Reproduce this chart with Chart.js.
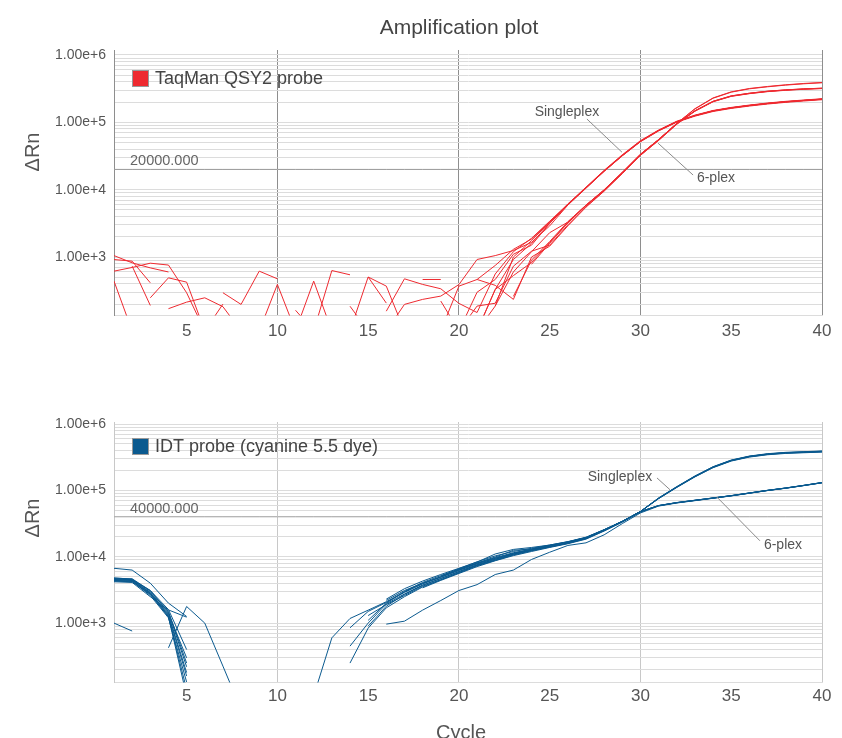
<!DOCTYPE html>
<html>
<head>
<meta charset="utf-8">
<title>Amplification plot</title>
<script src="https://cdn.jsdelivr.net/npm/chart.js@4.4.1/dist/chart.umd.min.js"></script>
<style>
  html, body { margin: 0; padding: 0; background: #fff; overflow: hidden; }
  #wrap { position: relative; width: 842px; height: 738px; }
  .box { position: absolute; left: 0; width: 842px; }
  #topBox { top: 0; height: 350px; }
  #bottomBox { top: 380px; height: 358px; }
</style>
</head>
<body>
<div id="wrap">
  <div class="box" id="topBox"><canvas id="qsyChart"></canvas></div>
  <div class="box" id="bottomBox"><canvas id="idtChart"></canvas></div>
</div>
<script>
const _ = null;

// x categories (cycle number) and axis ticks
const cycles = [1, 2, 3, 4, 5, 6, 7, 8, 9, 10, 11, 12, 13, 14, 15, 16, 17, 18, 19, 20,
  21, 22, 23, 24, 25, 26, 27, 28, 29, 30, 31, 32, 33, 34, 35, 36, 37, 38, 39, 40];
const xTicks = [5, 10, 15, 20, 25, 30, 35, 40];
const yLabelTicks = [1e3, 1e4, 1e5, 1e6];

const qsyThreshold = 20000;
const idtThreshold = 40000;

// TaqMan QSY2 probe, singleplex replicates (delta Rn per cycle)
const qsySingle1 = [1050, 820, 690, 600, _, _, _, _, _, _,
  _, _, _, _, _, 80, 198, 235, 263, 390,
  920, 1050, 1250, 1650, 2900, 5900, 10500, 18800, 32000, 52000,
  75500, 102000, 125500, 147500, 163500, 177500, 190000, 201500, 211000, 220500];
const qsySingle2 = [617, 700, 810, 760, 295, 80, _, _, _, _,
  _, _, _, _, _, _, _, 464, 464, _,
  80, 330, 918, 1600, 3200, 6150, 10900, 19400, 33000, 53500,
  77000, 104000, 128000, 150000, 166500, 180500, 193500, 205000, 214500, 224000];
const qsySingle3 = [918, 868, 414, _, _, _, _, _, 80, 392,
  80, _, _, _, _, 157, 475, 392, 338, 205,
  150, 560, 1200, 1900, 3400, 6100, 10600, 18700, 31800, 51500,
  74500, 100500, 123500, 145000, 161000, 174500, 187000, 198000, 207500, 216500];
const qsySingle4 = [_, 732, 191, _, _, _, _, _, _, _,
  _, 80, 630, 545, _, _, _, _, 222, 80,
  _, 187, 1000, 1750, 3300, 6000, 10700, 19000, 32300, 52400,
  75800, 102300, 126000, 148000, 164000, 178000, 190500, 202000, 211500, 221000];
const qsySingle5 = [439, 80, _, _, _, _, 295, 198, 617, 475,
  _, _, _, 80, 505, 207, _, _, _, 80,
  300, 464, 1100, 1500, 3150, 5950, 10650, 18900, 32200, 52200,
  75600, 102000, 125500, 147500, 163700, 177400, 190200, 201500, 211000, 220300];
const qsySingle6 = [_, _, 248, 491, 424, 80, _, _, _, _,
  80, 439, 80, _, _, _, _, _, 80, 370,
  464, 750, 1300, 1850, 3350, 6050, 10750, 19100, 32400, 52500,
  75900, 102400, 126200, 148500, 164800, 178600, 191400, 202700, 212300, 221800];

// TaqMan QSY2 probe, 6-plex replicates
const qsyMulti1 = [_, _, _, 171, 214, 248, 183, 80, _, _,
  _, _, _, 186, 80, _, _, _, _, _,
  _, _, _, 780, 1600, 3200, 5800, 9850, 17900, 33300,
  55300, 96000, 159500, 230500, 283500, 318000, 341000, 361000, 378000, 391000];
const qsyMulti2 = [_, _, _, _, _, 80, 200, _, _, _,
  _, _, _, _, 505, 370, 80, _, _, _,
  80, 330, 530, 830, 1650, 3250, 5850, 9900, 18000, 33500,
  55500, 96500, 158000, 228000, 280500, 314500, 337000, 357000, 373500, 386500];
const qsyMulti3 = [_, _, _, _, _, _, _, _, _, _,
  _, _, _, _, _, _, _, _, _, 80,
  187, 206, 731, 1220, 1500, 3000, 5600, 9600, 17500, 32500,
  54000, 94000, 146000, 202000, 243000, 266500, 285500, 299000, 309500, 317000];
const qsyMulti4 = [_, _, _, _, _, _, _, _, _, _,
  _, _, _, _, _, _, _, _, _, _,
  464, 380, 235, 1000, 1450, 2900, 5500, 9500, 17300, 32300,
  53800, 93500, 148500, 205000, 246500, 270500, 290000, 303500, 314000, 321500];
const qsyMulti5 = [_, _, _, _, _, _, _, _, _, _,
  _, _, _, _, _, _, _, _, _, _,
  80, 187, 600, 1200, 2300, 3300, 5900, 9900, 18000, 33400,
  55200, 95800, 147000, 203500, 244500, 268000, 287500, 301000, 311500, 319000];
const qsyMulti6 = [_, _, _, _, _, _, _, _, _, _,
  162, 80, _, _, _, _, _, _, _, _,
  _, _, 260, 900, 1700, 3350, 5900, 10000, 18100, 33700,
  55600, 96500, 148500, 205500, 247000, 270500, 289500, 303000, 313500, 321000];

// IDT probe (cyanine 5.5 dye), singleplex replicates
const idtSingle1 = [4800, 4600, 3000, 1500, 250, _, _, _, _, _,
  _, 80, 600, 1175, 1567, 2100, 2950, 3950, 4950, 6300,
  7900, 9500, 11300, 12900, 14600, 16500, 19300, 25300, 34000, 48000,
  76500, 113000, 163500, 225500, 284000, 326000, 353500, 370500, 379500, 388500];
const idtSingle2 = [4500, 4400, 2800, 1350, 180, _, _, _, _, _,
  _, _, _, 250, 840, 1700, 2500, 3500, 4500, 5800,
  7400, 8900, 10800, 12400, 14100, 16000, 18900, 25000, 33800, 47800,
  75500, 111500, 161000, 222000, 279500, 321000, 348000, 364500, 373000, 381500];
const idtSingle3 = [4300, 4200, 2700, 1250, 80, _, _, _, _, _,
  _, _, _, 450, 1000, 1950, 2750, 3750, 4700, 5950,
  7500, 9100, 10900, 12500, 14250, 16200, 19000, 25100, 33900, 47900,
  75800, 112200, 162000, 223500, 281000, 323000, 350000, 366500, 375000, 384000];
const idtSingle4 = [4600, 4500, 2900, 1400, 300, _, _, _, _, _,
  _, _, _, 850, 1500, 2050, 2900, 3900, 4900, 6200,
  7800, 9400, 11200, 12800, 14500, 16400, 19200, 25200, 34000, 48000,
  76000, 112500, 162500, 224500, 282500, 325000, 352000, 369000, 378000, 387000];
const idtSingle5 = [4400, 4300, 2600, 1200, 130, _, _, _, _, _,
  _, _, _, _, 1100, 2000, 3000, 4100, 5200, 6500,
  8000, 9700, 11500, 13000, 14700, 16600, 19400, 25400, 34100, 48100,
  75000, 110500, 159500, 219500, 276500, 317500, 344000, 360500, 369000, 377500];
const idtSingle6 = [4700, 4500, 3100, 1600, 400, _, _, _, _, _,
  _, _, _, _, _, 2300, 3300, 4300, 5400, 6700,
  8300, 11000, 12900, 13800, 15000, 16900, 19700, 25600, 34300, 48200,
  77000, 114000, 165000, 227500, 286500, 329000, 357000, 374000, 383000, 392000];

// IDT probe (cyanine 5.5 dye), 6-plex replicates
const idtMulti1 = [6700, 6300, 4000, 2000, 1260, _, _, _, _, _,
  _, _, _, _, _, 965, 1070, 1570, 2190, 3100,
  3800, 5400, 6300, 9100, 11700, 14800, 16200, 21400, 31600, 45700,
  58000, 64500, 70000, 76000, 82500, 90500, 99300, 107600, 118000, 130000];
const idtMulti2 = [1000, 760, _, 425, 1780, 1000, 225, 50, _, _,
  _, _, _, _, 1300, 1900, 2600, 3600, 4500, 5700,
  7300, 8800, 10600, 12300, 14000, 15900, 18700, 24600, 33500, 47500,
  59000, 65300, 70800, 76700, 83200, 91200, 100000, 108400, 118900, 131000];
const idtMulti3 = [4200, 4100, 2500, 1580, 1230, _, _, _, _, _,
  _, _, _, _, 900, 1800, 2700, 3700, 4700, 6000,
  7600, 9200, 11000, 12600, 14300, 16200, 19000, 25000, 33800, 47800,
  58800, 65200, 70700, 76600, 83000, 91000, 99800, 108200, 118600, 130500];
const idtMulti4 = [4750, 4650, 3100, 1450, 220, _, _, _, _, _,
  _, _, _, _, _, 2200, 3100, 4000, 5000, 6400,
  8100, 9900, 12500, 13100, 14800, 16700, 19500, 25500, 34000, 48000,
  59200, 65600, 71100, 77000, 83500, 91500, 100300, 108700, 119200, 131300];
const idtMulti5 = [4550, 4400, 2850, 1300, 160, _, _, _, _, _,
  _, _, _, _, _, _, _, 3400, 4400, 5600,
  7100, 8700, 10400, 12000, 13800, 15700, 18400, 24400, 33300, 47300,
  58600, 65000, 70400, 76300, 82800, 90700, 99500, 107800, 118200, 130200];
const idtMulti6 = [4350, 4250, 2750, 1250, 100, _, _, _, _, _,
  _, _, _, _, _, _, _, _, 5100, 6600,
  8400, 10300, 12000, 13400, 15000, 16800, 19400, 25400, 34000, 47900,
  58900, 65400, 70900, 76800, 83300, 91300, 100100, 108500, 119000, 131100];

const qsySeries = [qsySingle1, qsySingle2, qsySingle3, qsySingle4, qsySingle5, qsySingle6,
  qsyMulti1, qsyMulti2, qsyMulti3, qsyMulti4, qsyMulti5, qsyMulti6];
const idtSeries = [idtSingle1, idtSingle2, idtSingle3, idtSingle4, idtSingle5, idtSingle6,
  idtMulti1, idtMulti2, idtMulti3, idtMulti4, idtMulti5, idtMulti6];

const FONT = "'Liberation Sans', 'Helvetica Neue', Arial, sans-serif";
Chart.defaults.font.family = FONT;
Chart.defaults.color = '#555';

const RED = '#ee2a30';
const BLUE = '#0b5a8f';

// minor log grid: 1..9 x 10^n inside the axis range
function logGridValues(min, max) {
  const out = [];
  for (let e = 1; e <= 7; e++) {
    for (let m = 1; m <= 9; m++) {
      const v = m * Math.pow(10, e);
      if (v >= min && v <= max) out.push(v);
    }
  }
  return out;
}

// extra text: titles, legend key, threshold label and the Singleplex / 6-plex call-outs
function notesPlugin(spec) {
  return {
    id: 'notes',
    afterDraw(chart) {
      const ctx = chart.ctx;
      const area = chart.chartArea;
      const xs = chart.scales.x;
      const ys = chart.scales.y;
      ctx.save();
      ctx.textBaseline = 'middle';

      spec.texts.forEach(t => {
        ctx.save();
        ctx.font = t.size + 'px ' + FONT;
        ctx.fillStyle = t.color;
        ctx.textAlign = 'center';
        ctx.translate(t.x, t.y);
        if (t.rotate) ctx.rotate(-Math.PI / 2);
        ctx.fillText(t.text, 0, 0);
        ctx.restore();
      });

      // legend key inside the plot area
      const kx = area.left + 18;
      const ky = area.top + spec.legend.offset;
      ctx.fillStyle = spec.legend.color;
      ctx.fillRect(kx, ky, 17, 17);
      ctx.strokeStyle = '#999';
      ctx.lineWidth = 1;
      ctx.strokeRect(kx + 0.5, ky + 0.5, 16, 16);
      ctx.font = '18px ' + FONT;
      ctx.fillStyle = '#444';
      ctx.textAlign = 'left';
      ctx.fillText(spec.legend.text, kx + 23, ky + 9);

      const ty = ys.getPixelForValue(spec.threshold);
      ctx.font = '14.5px ' + FONT;
      ctx.fillStyle = '#666';
      ctx.fillText(spec.threshold.toFixed(3), area.left + 16, ty - 8);

      ctx.strokeStyle = '#8a8a8a';
      ctx.lineWidth = 1;
      spec.notes.forEach(n => {
        ctx.beginPath();
        ctx.moveTo(xs.getPixelForValue(n.from[0]), ys.getPixelForValue(n.from[1]));
        ctx.lineTo(xs.getPixelForValue(n.to[0]), ys.getPixelForValue(n.to[1]));
        ctx.stroke();
        ctx.font = '14px ' + FONT;
        ctx.fillStyle = '#555';
        ctx.textAlign = 'center';
        ctx.fillText(n.text, xs.getPixelForValue(n.at[0]), ys.getPixelForValue(n.at[1]));
      });
      ctx.restore();
    }
  };
}

function makeChart(canvasId, cfg) {
  const datasets = cfg.series.map(values => ({
    data: values,
    borderColor: cfg.color,
    borderWidth: 1,
    pointRadius: 0,
    tension: 0,
    spanGaps: false,
    order: 0
  }));
  // threshold line
  datasets.push({
    data: cycles.map(() => cfg.threshold),
    borderColor: cfg.thresholdColor,
    borderWidth: 1,
    pointRadius: 0,
    order: 1
  });

  return new Chart(document.getElementById(canvasId), {
    type: 'line',
    data: { labels: cycles, datasets: datasets },
    options: {
      animation: false,
      responsive: true,
      maintainAspectRatio: false,
      events: [],
      layout: { padding: cfg.padding },
      plugins: {
        tooltip: { enabled: false },
        title: { display: false },
        legend: { display: false }
      },
      scales: {
        x: {
          type: 'linear',
          min: 1,
          max: 40,
          afterBuildTicks: (scale) => { scale.ticks = xTicks.map(v => ({ value: v })); },
          ticks: { autoSkip: false, maxRotation: 0, padding: cfg.tickPad, color: '#555', font: { size: 17 } },
          grid: {
            drawTicks: false,
            lineWidth: 1,
            color: (ctx) => (ctx.tick && ctx.tick.value % 10 === 0) ? cfg.vGrid : 'rgba(0,0,0,0)'
          },
          border: { color: '#dcdcdc' }
        },
        y: {
          type: 'logarithmic',
          min: cfg.yMin,
          max: cfg.yMax,
          afterBuildTicks: (scale) => {
            scale.ticks = logGridValues(cfg.yMin, cfg.yMax).map(v => ({ value: v }));
          },
          afterFit: (scale) => { scale.width = 114; },
          ticks: {
            autoSkip: false,
            padding: 8,
            color: '#555',
            font: { size: 14 },
            callback: (v) => yLabelTicks.includes(v) ? Number(v).toExponential(2) : ''
          },
          grid: { drawTicks: false, color: '#dcdcdc', lineWidth: 1 },
          border: { color: cfg.vGrid }
        }
      }
    },
    plugins: [notesPlugin(cfg.notes)]
  });
}

makeChart('qsyChart', {
  series: qsySeries,
  color: RED,
  threshold: qsyThreshold,
  thresholdColor: '#9a9a9a',
  vGrid: '#8e8e8e',
  yMin: 135,
  yMax: 1.186e6,
  tickPad: 5.5,
  padding: { top: 50, right: 20, bottom: 3, left: 0 },
  notes: {
    threshold: qsyThreshold,
    legend: { text: 'TaqMan QSY2 probe', color: RED, offset: 20 },
    texts: [
      { text: 'Amplification plot', x: 459, y: 28, size: 21, color: '#444' },
      { text: 'ΔRn', x: 33, y: 152, size: 20, color: '#555', rotate: true }
    ],
    notes: [
      { text: 'Singleplex', at: [25.95, 1.42e5], from: [27.05, 1.12e5], to: [28.98, 3.6e4] },
      { text: '6-plex', at: [34.16, 1.49e4], from: [30.97, 4.9e4], to: [32.9, 1.65e4] }
    ]
  }
});

makeChart('idtChart', {
  series: idtSeries,
  color: BLUE,
  threshold: idtThreshold,
  thresholdColor: '#a8a8a8',
  vGrid: '#c8c8c8',
  yMin: 127,
  yMax: 1.072e6,
  tickPad: 4,
  padding: { top: 42, right: 20, bottom: 27, left: 0 },
  notes: {
    threshold: idtThreshold,
    legend: { text: 'IDT probe (cyanine 5.5 dye)', color: BLUE, offset: 16 },
    texts: [
      { text: 'ΔRn', x: 33, y: 138, size: 20, color: '#555', rotate: true },
      { text: 'Cycle', x: 461, y: 353, size: 20, color: '#555' }
    ],
    notes: [
      { text: 'Singleplex', at: [28.87, 1.6e5], from: [30.91, 1.54e5], to: [31.63, 1.02e5] },
      { text: '6-plex', at: [37.85, 1.51e4], from: [34.2, 7.98e4], to: [36.58, 1.74e4] }
    ]
  }
});
</script>
</body>
</html>
